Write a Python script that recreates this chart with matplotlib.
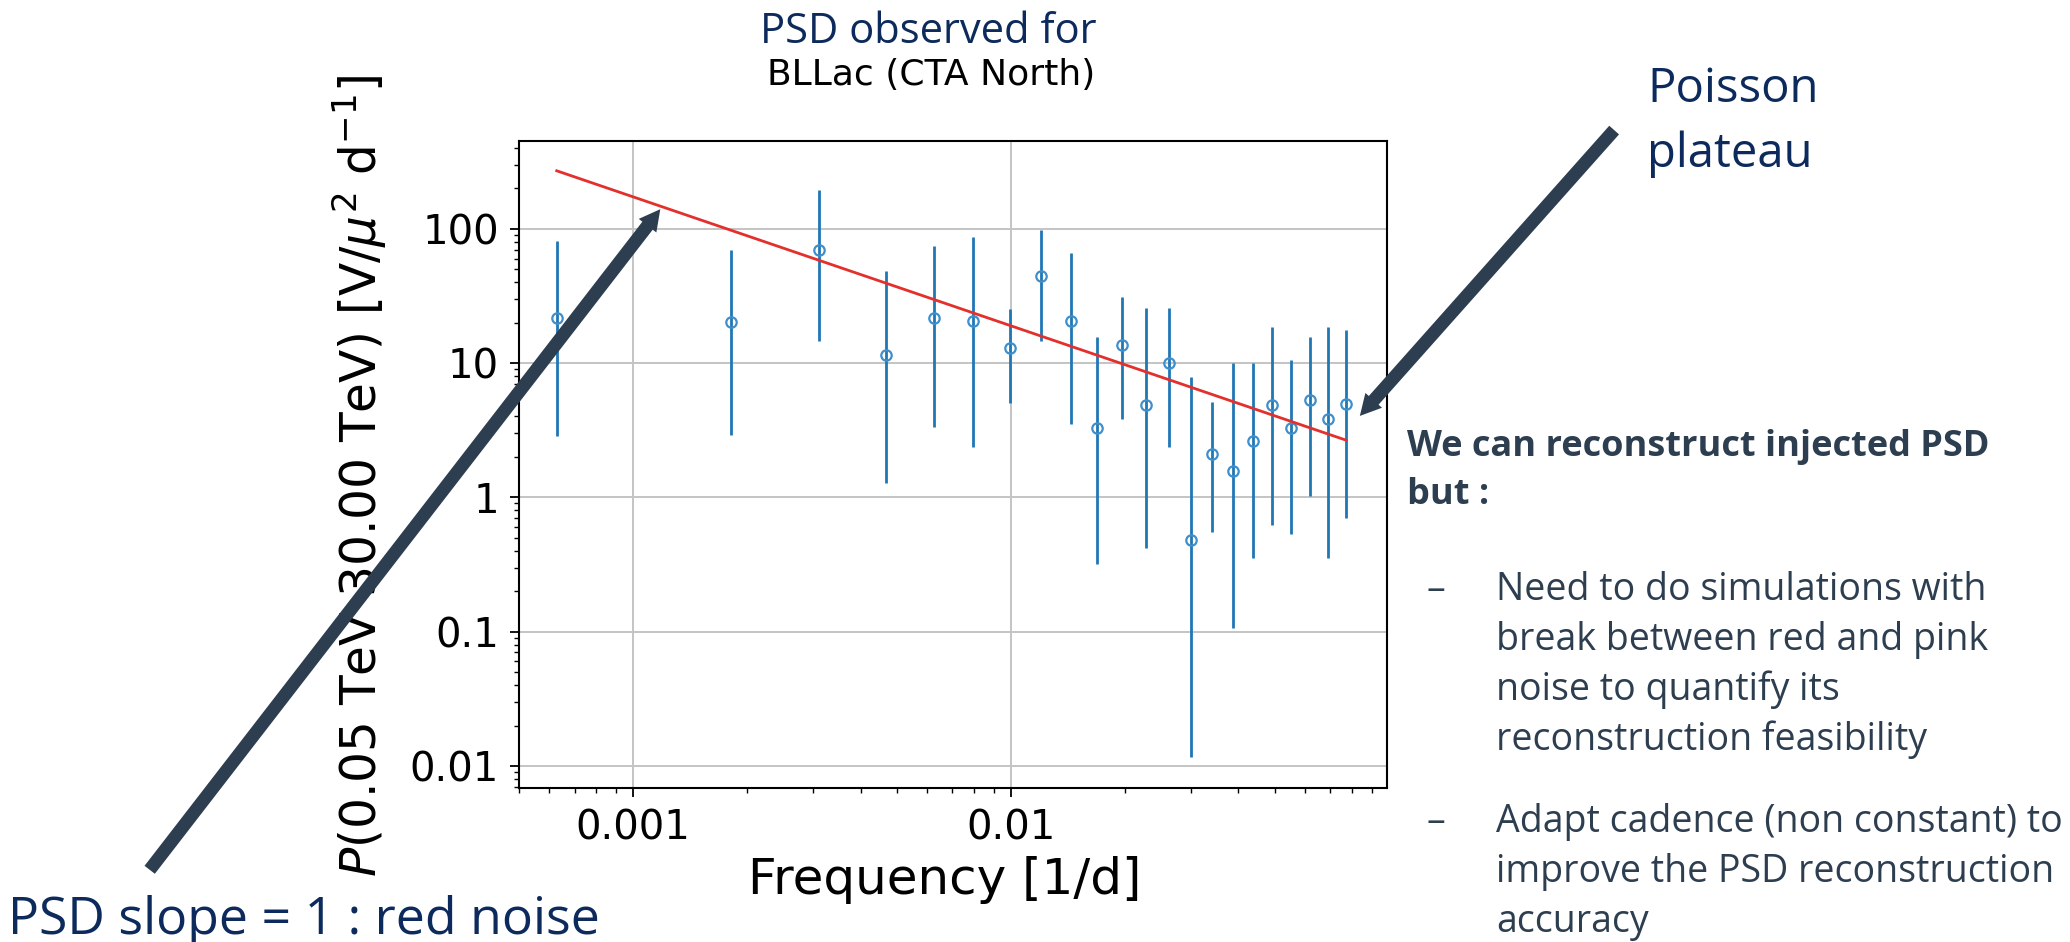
import numpy as np
import matplotlib
matplotlib.use("Agg")
import matplotlib.pyplot as plt
from matplotlib.patches import FancyArrowPatch
from matplotlib.ticker import FuncFormatter, NullFormatter, LogLocator

# periodogram points (frequency in 1/d, power and error bar ends)
freq = [6.28e-4, 1.82e-3, 3.10e-3, 4.67e-3, 6.24e-3, 7.94e-3, 9.93e-3, 1.20e-2,
        1.44e-2, 1.69e-2, 1.97e-2, 2.28e-2, 2.62e-2, 2.99e-2, 3.40e-2, 3.86e-2,
        4.37e-2, 4.90e-2, 5.50e-2, 6.17e-2, 6.90e-2, 7.72e-2]
power = [21.5, 20.1, 69.8, 11.4, 21.8, 20.4, 12.9, 44.4, 20.5, 3.27, 13.6,
         4.91, 10.0, 0.480, 2.10, 1.57, 2.62, 4.87, 3.27, 5.34, 3.81, 4.95]
upper = [81.3, 69.8, 193, 48.3, 74.2, 86.4, 25.2, 98.5, 65.6, 15.6, 31.0,
         25.8, 25.8, 7.83, 5.14, 10.0, 9.93, 18.7, 10.5, 15.6, 18.7, 17.7]
lower = [2.85, 2.92, 14.5, 1.28, 3.32, 2.39, 5.06, 14.5, 3.51, 0.318, 3.85,
         0.418, 2.39, 0.0116, 0.551, 0.106, 0.351, 0.618, 0.530, 1.02, 0.351, 0.703]

# power-law fit, end points
fit_freq = [6.28e-4, 7.72e-2]
fit_power = [270, 2.66]

navy = "#0c2a5c"
slate = "#2d3e50"

W, H = 2070, 942
fig = plt.figure(figsize=(W / 100, H / 100), dpi=100)
fig.patch.set_facecolor("white")

ax = fig.add_axes([519 / W, 1 - 788 / H, (1387 - 519) / W, (788 - 141) / H])
ax.set_xscale("log")
ax.set_yscale("log")

p = np.array(power)
yerr = [p - np.array(lower), np.array(upper) - p]
ax.errorbar(freq, power, yerr=yerr, fmt="o", color="#1f77b4", ecolor="#1f77b4",
            elinewidth=2.0, capsize=0, ms=7.5, mfc="none", mec="#3f8fcc", mew=1.6,
            zorder=3)
ax.plot(fit_freq, fit_power, color="#e3302c", lw=2.0, zorder=4)

ax.set_xlim(4.99e-4, 0.0989)
ax.set_ylim(6.85e-3, 450)
ax.grid(True, which="major", color="#c4c4c4", lw=1.4)
ax.set_axisbelow(True)

fmt = FuncFormatter(lambda v, pos: "{:g}".format(v))
ax.xaxis.set_major_formatter(fmt)
ax.yaxis.set_major_formatter(fmt)
ax.xaxis.set_minor_formatter(NullFormatter())
ax.yaxis.set_minor_formatter(NullFormatter())
ax.yaxis.set_major_locator(LogLocator(base=10, numticks=10))
ax.yaxis.set_minor_locator(LogLocator(base=10, subs=np.arange(2, 10), numticks=10))

ax.tick_params(which="major", length=6.5, width=1.3, labelsize=29, pad=8)
ax.tick_params(which="minor", length=3.8, width=1.0)
for s in ax.spines.values():
    s.set_linewidth(1.5)

ax.set_xlabel("Frequency [1/d]", fontsize=36)
ax.xaxis.set_label_coords(0.49, -0.105)
fig.text(360 / W, 1 - 476 / H, r"$P$(0.05 TeV 30.00 TeV) [V/$\mu^2$ d$^{-1}$]",
         rotation=90, ha="center", va="center", fontsize=35)

# slide titles
fig.text(760 / W, 1 - 43 / H, "PSD observed for", family="Open Sans",
         fontsize=30, color=navy, va="baseline")
fig.text(767 / W, 1 - 85 / H, "BLLac (CTA North)", fontsize=26, va="baseline")

fig.text(1647 / W, 1 - 102 / H, "Poisson", family="Open Sans", fontsize=34,
         color=navy, va="baseline")
fig.text(1647 / W, 1 - 167 / H, "plateau", family="Open Sans", fontsize=34,
         color=navy, va="baseline")
fig.text(8 / W, 1 - 934 / H, "PSD slope = 1 : red noise", family="Open Sans",
         fontsize=37.3, color=navy, va="baseline")

# right-hand notes
fig.text(1407 / W, 1 - 456 / H, "We can reconstruct injected PSD", family="Open Sans",
         weight="bold", fontsize=26, color=slate, va="baseline")
fig.text(1407 / W, 1 - 504 / H, "but :", family="Open Sans", weight="bold",
         fontsize=26, color=slate, va="baseline")

bullets = [
    (600, ["Need to do simulations with", "break between red and pink",
           "noise to quantify its", "reconstruction feasibility"]),
    (832, ["Adapt cadence (non constant) to", "improve the PSD reconstruction",
           "accuracy"]),
]
for y0, lines in bullets:
    fig.text(1427 / W, 1 - y0 / H, "\u2013", family="Open Sans", fontsize=27,
             color=slate, va="baseline")
    for i, line in enumerate(lines):
        fig.text(1496 / W, 1 - (y0 + 50 * i) / H, line, family="Open Sans",
                 fontsize=27, color=slate, va="baseline")

# pointer arrows
for tail, tip in [((148, 872), (662, 207)), ((1616, 128), (1358, 418))]:
    arr = FancyArrowPatch((tail[0] / W, 1 - tail[1] / H), (tip[0] / W, 1 - tip[1] / H),
                          transform=fig.transFigure,
                          arrowstyle="simple,head_length=15,head_width=16,tail_width=9.4",
                          mutation_scale=1, color=slate, lw=0, zorder=10)
    fig.add_artist(arr)

fig.savefig("out.png", dpi=100)
